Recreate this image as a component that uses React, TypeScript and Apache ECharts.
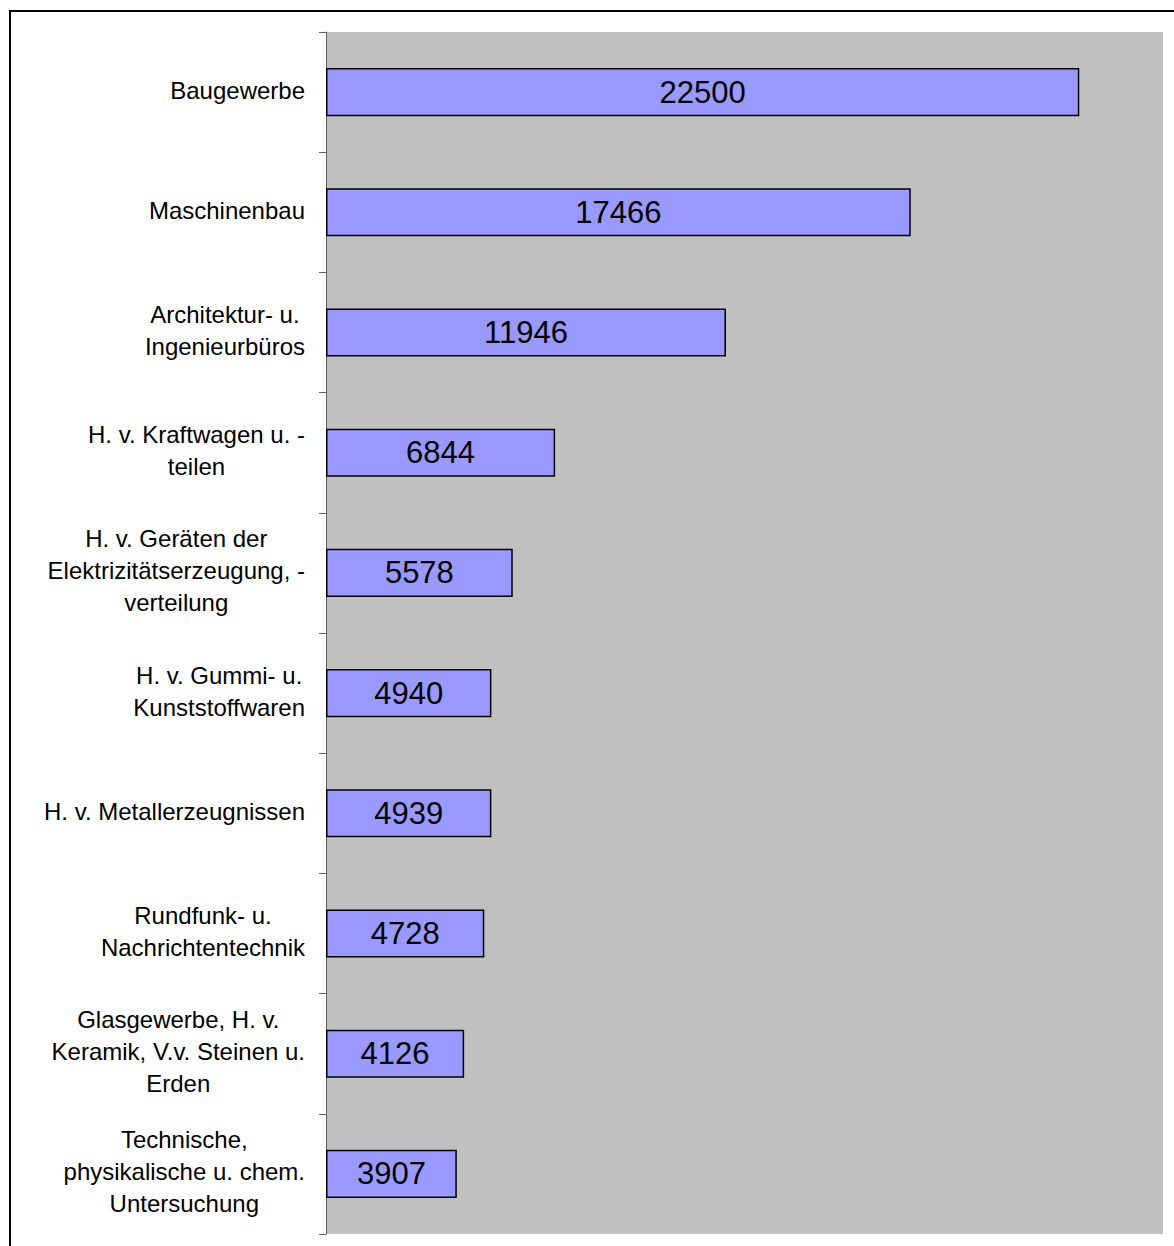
import React, { useEffect, useRef } from "react";
import * as echarts from "echarts";

const categories: string[] = [
  "Baugewerbe",
  "Maschinenbau",
  "Architektur- u.\nIngenieurbüros",
  "H. v. Kraftwagen u. -\nteilen",
  "H. v. Geräten der\nElektrizitätserzeugung, -\nverteilung",
  "H. v. Gummi- u.\nKunststoffwaren",
  "H. v. Metallerzeugnissen",
  "Rundfunk- u.\nNachrichtentechnik",
  "Glasgewerbe, H. v.\nKeramik, V.v. Steinen u.\nErden",
  "Technische,\nphysikalische u. chem.\nUntersuchung",
];

const values: number[] = [22500, 17466, 11946, 6844, 5578, 4940, 4939, 4728, 4126, 3907];

const FONT = "'Liberation Sans', Arial, sans-serif";

export default function App() {
  const ref = useRef<HTMLDivElement>(null);
  useEffect(() => {
    if (!ref.current) return;
    const chart = echarts.init(ref.current, undefined, { renderer: "svg" });
    chart.setOption({
      animation: false,
      backgroundColor: "#ffffff",
      grid: {
        left: 326,
        right: 11,
        top: 32,
        bottom: 12,
        show: true,
        backgroundColor: "#c0c0c0",
        borderWidth: 0,
      },
      xAxis: {
        type: "value",
        min: 0,
        max: 25000,
        show: false,
        splitLine: { show: false },
      },
      yAxis: {
        type: "category",
        data: categories,
        inverse: true,
        axisLine: { show: true, lineStyle: { color: "#606060", width: 1 } },
        axisTick: { show: true, length: 7, lineStyle: { color: "#606060", width: 1 } },
        axisLabel: {
          margin: 21,
          align: "right",
          fontFamily: FONT,
          fontSize: 24,
          lineHeight: 32,
          color: "#000000",
          padding: [0, 0, 4, 0],
          formatter: (v: string) =>
            v
              .split("\n")
              .map((l) => "{c|" + l + "}")
              .join("\n"),
          rich: {
            c: {
              align: "center",
              fontFamily: FONT,
              fontSize: 24,
              lineHeight: 32,
              color: "#000000",
            },
          },
        },
      },
      graphic: [
        {
          type: "rect",
          shape: { x: 10, y: 11, width: 1300, height: 1400 },
          style: { fill: "none", stroke: "#000000", lineWidth: 2 },
          silent: true,
        },
      ],
      series: [
        {
          type: "bar",
          data: values,
          barWidth: "40%",
          itemStyle: { color: "#9999ff", borderColor: "#000000", borderWidth: 1.5 },
          label: {
            show: true,
            position: "inside",
            fontFamily: FONT,
            fontSize: 31,
            color: "#000000",
          },
        },
      ],
    });
    return () => chart.dispose();
  }, []);
  return (
    <div
      ref={ref}
      style={{ position: "absolute", left: 0, top: 0, width: 1174, height: 1246 }}
    />
  );
}
